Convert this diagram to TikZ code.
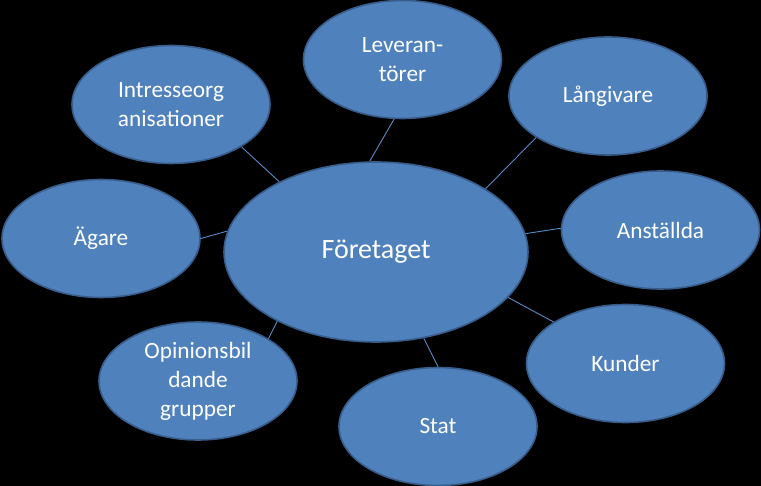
\documentclass[tikz,border=0pt]{standalone}
\usepackage{fontspec}
\setmainfont{Carlito}
\usetikzlibrary{shapes.geometric}
\definecolor{ofill}{HTML}{4F81BD}
\definecolor{oline}{HTML}{385D8A}
\definecolor{conn}{HTML}{5A8AC6}
\tikzset{
  bubble/.style={ellipse, draw=oline, line width=1.6pt, fill=ofill, text=white,
    minimum width=198pt, minimum height=118pt, inner sep=0pt, align=center,
    font=\fontsize{23.3}{29}\selectfont},
  bigbubble/.style={bubble, minimum width=304pt, minimum height=180pt,
    font=\fontsize{28}{33}\selectfont},
  link/.style={draw=conn, line width=0.9pt}
}
\begin{document}
\begin{tikzpicture}[x=1pt,y=-1pt]
\fill[black] (0,0) rectangle (761,486);
\useasboundingbox (0,0) rectangle (761,486);
\node[bigbubble] (c) at (376,252) {Företaget};
\node[bubble] (lev) at (402.5,59.5) {Leveran-\\törer};
\node[bubble] (int) at (171,104.5) {Intresseorg\\anisationer};
\node[bubble] (lan) at (608,96) {Långivare};
\node[bubble] (aga) at (101,238.5) {Ägare};
\node[bubble] (ans) at (660.5,230) {Anställda};
\node[bubble] (kun) at (625.5,363.5) {Kunder};
\node[bubble] (sta) at (438,426.5) {Stat};
\node[bubble] (opi) at (198,381) {Opinionsbil\\dande\\grupper};
\draw[link] (int.-31.6) -- (c.144.5);
\draw[link] (lev.262) -- (c.94.4);
\draw[link] (lan.210.6) -- (c.30.4);
\draw[link] (ans.179) -- (c.7.2);
\draw[link] (aga.0) -- (c.172.4);
\draw[link] (opi.31.6) -- (c.215.5);
\draw[link] (sta.90) -- (c.-61.6);
\draw[link] (kun.150) -- (c.-19.2);
\end{tikzpicture}
\end{document}
